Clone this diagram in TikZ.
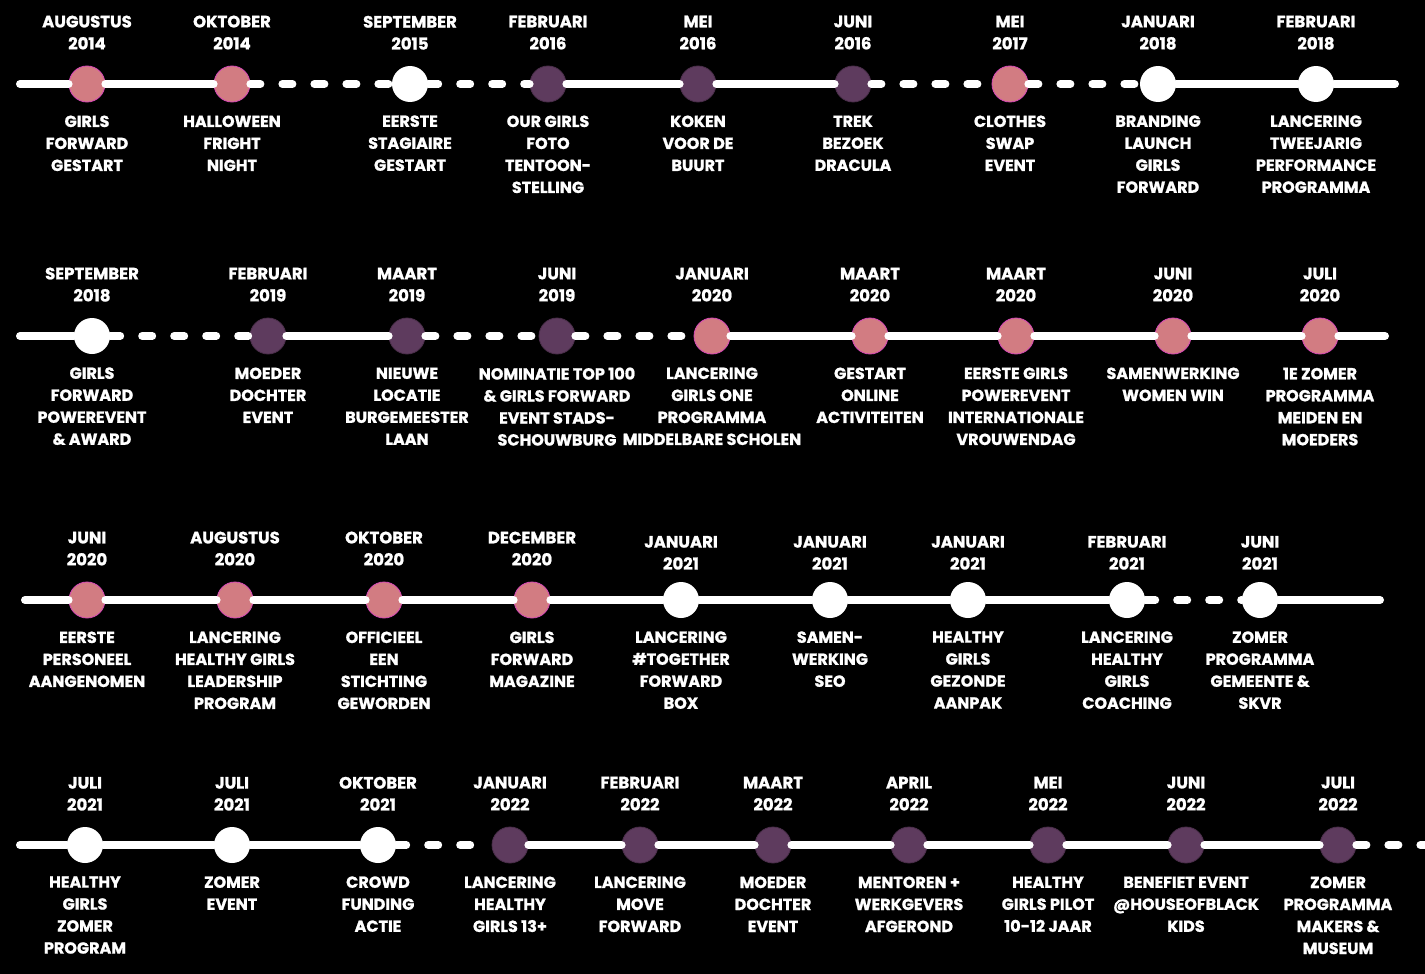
\documentclass[tikz,border=0pt]{standalone}
\usepackage{fontspec}
\setmainfont{Poppins}[BoldFeatures={FakeBold=1.2}]
\usetikzlibrary{positioning}
\definecolor{gfpink}{HTML}{D27C82}
\definecolor{gfrim}{HTML}{D84AB8}
\definecolor{gfpurple}{HTML}{5E3B5E}

\begin{document}
\begin{tikzpicture}[x=1pt, y=-1pt,
    eventdot/.style={circle, minimum size=36pt, inner sep=0pt},
    pinkdot/.style={eventdot, fill=gfpink, draw=gfrim, line width=0.8pt},
    purpledot/.style={eventdot, fill=gfpurple, draw=gfpurple!80!black, line width=0.8pt},
    whitedot/.style={eventdot, fill=white},
    datetext/.style={text=white, align=center, inner sep=0pt, font=\fontsize{16.5}{22}\selectfont\bfseries},
    infotext/.style={text=white, align=center, inner sep=0pt, font=\fontsize{16}{22}\selectfont\bfseries},
    track/.style={white, line width=8pt, line cap=round},
    dashtrack/.style={white, line width=8pt, line cap=round, dash pattern=on 10pt off 22pt}]

    % Black page
    \useasboundingbox (0,0) rectangle (1425,974);
    \fill[black] (0,0) rectangle (1425,974);

    % Row 1
    \coordinate (r1s) at (20,84);
    \coordinate (r1e) at (1395,84);
    \node[pinkdot] (a1) at (87,84) {};
    \node[pinkdot] (a2) at (232,84) {};
    \node[whitedot] (a3) at (410,84) {};
    \node[purpledot] (a4) at (548,84) {};
    \node[purpledot] (a5) at (698,84) {};
    \node[purpledot] (a6) at (853,84) {};
    \node[pinkdot] (a7) at (1010,84) {};
    \node[whitedot] (a8) at (1158,84) {};
    \node[whitedot] (a9) at (1316,84) {};

    \draw[track] (r1s) -- (a1);
    \draw[track] (a1) -- (a2);
    \draw[dashtrack] (a2) -- (a3);
    \draw[dashtrack] (a3) -- (a4);
    \draw[track] (a4) -- (a5);
    \draw[track] (a5) -- (a6);
    \draw[dashtrack] (a6) -- (a7);
    \draw[dashtrack] (a7) -- (a8);
    \draw[track] (a8) -- (a9);
    \draw[track] (a9) -- (r1e);

    \node[datetext, above=16pt of a1] (a1d) {AUGUSTUS\\2014};
    \node[datetext, above=16pt of a2] (a2d) {OKTOBER\\2014};
    \node[datetext, above=16pt of a3] (a3d) {SEPTEMBER\\2015};
    \node[datetext, above=16pt of a4] (a4d) {FEBRUARI\\2016};
    \node[datetext, above=16pt of a5] (a5d) {MEI\\2016};
    \node[datetext, above=16pt of a6] (a6d) {JUNI\\2016};
    \node[datetext, above=16pt of a7] (a7d) {MEI\\2017};
    \node[datetext, above=16pt of a8] (a8d) {JANUARI\\2018};
    \node[datetext, above=16pt of a9] (a9d) {FEBRUARI\\2018};

    \node[infotext, below=13pt of a1] (a1i) {GIRLS\\FORWARD\\GESTART};
    \node[infotext, below=13pt of a2] (a2i) {HALLOWEEN\\FRIGHT\\NIGHT};
    \node[infotext, below=13pt of a3] (a3i) {EERSTE\\STAGIAIRE\\GESTART};
    \node[infotext, below=13pt of a4] (a4i) {OUR GIRLS\\FOTO\\TENTOON-\\STELLING};
    \node[infotext, below=13pt of a5] (a5i) {KOKEN\\VOOR DE\\BUURT};
    \node[infotext, below=13pt of a6] (a6i) {TREK\\BEZOEK\\DRACULA};
    \node[infotext, below=13pt of a7] (a7i) {CLOTHES\\SWAP\\EVENT};
    \node[infotext, below=13pt of a8] (a8i) {BRANDING\\LAUNCH\\GIRLS\\FORWARD};
    \node[infotext, below=13pt of a9] (a9i) {LANCERING\\TWEEJARIG\\PERFORMANCE\\PROGRAMMA};

    % Row 2
    \coordinate (r2s) at (20,336);
    \coordinate (r2e) at (1385,336);
    \node[whitedot] (b1) at (92,336) {};
    \node[purpledot] (b2) at (268,336) {};
    \node[purpledot] (b3) at (407,336) {};
    \node[purpledot] (b4) at (557,336) {};
    \node[pinkdot] (b5) at (712,336) {};
    \node[pinkdot] (b6) at (870,336) {};
    \node[pinkdot] (b7) at (1016,336) {};
    \node[pinkdot] (b8) at (1173,336) {};
    \node[pinkdot] (b9) at (1320,336) {};

    \draw[track] (r2s) -- (b1);
    \draw[dashtrack] (b1) -- (b2);
    \draw[track] (b2) -- (b3);
    \draw[dashtrack] (b3) -- (b4);
    \draw[dashtrack] (b4) -- (b5);
    \draw[track] (b5) -- (b6);
    \draw[track] (b6) -- (b7);
    \draw[track] (b7) -- (b8);
    \draw[track] (b8) -- (b9);
    \draw[track] (b9) -- (r2e);

    \node[datetext, above=16pt of b1] (b1d) {SEPTEMBER\\2018};
    \node[datetext, above=16pt of b2] (b2d) {FEBRUARI\\2019};
    \node[datetext, above=16pt of b3] (b3d) {MAART\\2019};
    \node[datetext, above=16pt of b4] (b4d) {JUNI\\2019};
    \node[datetext, above=16pt of b5] (b5d) {JANUARI\\2020};
    \node[datetext, above=16pt of b6] (b6d) {MAART\\2020};
    \node[datetext, above=16pt of b7] (b7d) {MAART\\2020};
    \node[datetext, above=16pt of b8] (b8d) {JUNI\\2020};
    \node[datetext, above=16pt of b9] (b9d) {JULI\\2020};

    \node[infotext, below=13pt of b1] (b1i) {GIRLS\\FORWARD\\POWEREVENT\\\& AWARD};
    \node[infotext, below=13pt of b2] (b2i) {MOEDER\\DOCHTER\\EVENT};
    \node[infotext, below=13pt of b3] (b3i) {NIEUWE\\LOCATIE\\BURGEMEESTER\\LAAN};
    \node[infotext, below=13pt of b4] (b4i) {NOMINATIE TOP 100\\\& GIRLS FORWARD\\EVENT STADS-\\SCHOUWBURG};
    \node[infotext, below=13pt of b5] (b5i) {LANCERING\\GIRLS ONE\\PROGRAMMA\\MIDDELBARE SCHOLEN};
    \node[infotext, below=13pt of b6] (b6i) {GESTART\\ONLINE\\ACTIVITEITEN};
    \node[infotext, below=13pt of b7] (b7i) {EERSTE GIRLS\\POWEREVENT\\INTERNATIONALE\\VROUWENDAG};
    \node[infotext, below=13pt of b8] (b8i) {SAMENWERKING\\WOMEN WIN};
    \node[infotext, below=13pt of b9] (b9i) {1E ZOMER\\PROGRAMMA\\MEIDEN EN\\MOEDERS};

    % Row 3
    \coordinate (r3s) at (25,600);
    \coordinate (r3e) at (1380,600);
    \node[pinkdot] (c1) at (87,600) {};
    \node[pinkdot] (c2) at (235,600) {};
    \node[pinkdot] (c3) at (384,600) {};
    \node[pinkdot] (c4) at (532,600) {};
    \node[whitedot] (c5) at (681,600) {};
    \node[whitedot] (c6) at (830,600) {};
    \node[whitedot] (c7) at (968,600) {};
    \node[whitedot] (c8) at (1127,600) {};
    \node[whitedot] (c9) at (1260,600) {};

    \draw[track] (r3s) -- (c1);
    \draw[track] (c1) -- (c2);
    \draw[track] (c2) -- (c3);
    \draw[track] (c3) -- (c4);
    \draw[track] (c4) -- (c5);
    \draw[track] (c5) -- (c6);
    \draw[track] (c6) -- (c7);
    \draw[track] (c7) -- (c8);
    \draw[dashtrack] (c8) -- (c9);
    \draw[track] (c9) -- (r3e);

    \node[datetext, above=16pt of c1] (c1d) {JUNI\\2020};
    \node[datetext, above=16pt of c2] (c2d) {AUGUSTUS\\2020};
    \node[datetext, above=16pt of c3] (c3d) {OKTOBER\\2020};
    \node[datetext, above=16pt of c4] (c4d) {DECEMBER\\2020};
    \node[datetext, above=12pt of c5] (c5d) {JANUARI\\2021};
    \node[datetext, above=12pt of c6] (c6d) {JANUARI\\2021};
    \node[datetext, above=12pt of c7] (c7d) {JANUARI\\2021};
    \node[datetext, above=12pt of c8] (c8d) {FEBRUARI\\2021};
    \node[datetext, above=12pt of c9] (c9d) {JUNI\\2021};

    \node[infotext, below=13pt of c1] (c1i) {EERSTE\\PERSONEEL\\AANGENOMEN};
    \node[infotext, below=13pt of c2] (c2i) {LANCERING\\HEALTHY GIRLS\\LEADERSHIP\\PROGRAM};
    \node[infotext, below=13pt of c3] (c3i) {OFFICIEEL\\EEN\\STICHTING\\GEWORDEN};
    \node[infotext, below=13pt of c4] (c4i) {GIRLS\\FORWARD\\MAGAZINE};
    \node[infotext, below=13pt of c5] (c5i) {LANCERING\\\#TOGETHER\\FORWARD\\BOX};
    \node[infotext, below=13pt of c6] (c6i) {SAMEN-\\WERKING\\SEO};
    \node[infotext, below=13pt of c7] (c7i) {HEALTHY\\GIRLS\\GEZONDE\\AANPAK};
    \node[infotext, below=13pt of c8] (c8i) {LANCERING\\HEALTHY\\GIRLS\\COACHING};
    \node[infotext, below=13pt of c9] (c9i) {ZOMER\\PROGRAMMA\\GEMEENTE \&\\SKVR};

    % Row 4
    \coordinate (r4s) at (20,845);
    \coordinate (r4e) at (1440,845);
    \node[whitedot] (d1) at (85,845) {};
    \node[whitedot] (d2) at (232,845) {};
    \node[whitedot] (d3) at (378,845) {};
    \node[purpledot] (d4) at (510,845) {};
    \node[purpledot] (d5) at (640,845) {};
    \node[purpledot] (d6) at (773,845) {};
    \node[purpledot] (d7) at (909,845) {};
    \node[purpledot] (d8) at (1048,845) {};
    \node[purpledot] (d9) at (1186,845) {};
    \node[purpledot] (d10) at (1338,845) {};

    \draw[track] (r4s) -- (d1);
    \draw[track] (d1) -- (d2);
    \draw[track] (d2) -- (d3);
    \draw[dashtrack] (d3) -- (d4);
    \draw[track] (d4) -- (d5);
    \draw[track] (d5) -- (d6);
    \draw[track] (d6) -- (d7);
    \draw[track] (d7) -- (d8);
    \draw[track] (d8) -- (d9);
    \draw[track] (d9) -- (d10);
    \draw[dashtrack] (d10) -- (r4e);

    \node[datetext, above=16pt of d1] (d1d) {JULI\\2021};
    \node[datetext, above=16pt of d2] (d2d) {JULI\\2021};
    \node[datetext, above=16pt of d3] (d3d) {OKTOBER\\2021};
    \node[datetext, above=16pt of d4] (d4d) {JANUARI\\2022};
    \node[datetext, above=16pt of d5] (d5d) {FEBRUARI\\2022};
    \node[datetext, above=16pt of d6] (d6d) {MAART\\2022};
    \node[datetext, above=16pt of d7] (d7d) {APRIL\\2022};
    \node[datetext, above=16pt of d8] (d8d) {MEI\\2022};
    \node[datetext, above=16pt of d9] (d9d) {JUNI\\2022};
    \node[datetext, above=16pt of d10] (d10d) {JULI\\2022};

    \node[infotext, below=13pt of d1] (d1i) {HEALTHY\\GIRLS\\ZOMER\\PROGRAM};
    \node[infotext, below=13pt of d2] (d2i) {ZOMER\\EVENT};
    \node[infotext, below=13pt of d3] (d3i) {CROWD\\FUNDING\\ACTIE};
    \node[infotext, below=13pt of d4] (d4i) {LANCERING\\HEALTHY\\GIRLS 13+};
    \node[infotext, below=13pt of d5] (d5i) {LANCERING\\MOVE\\FORWARD};
    \node[infotext, below=13pt of d6] (d6i) {MOEDER\\DOCHTER\\EVENT};
    \node[infotext, below=13pt of d7] (d7i) {MENTOREN +\\WERKGEVERS\\AFGEROND};
    \node[infotext, below=13pt of d8] (d8i) {HEALTHY\\GIRLS PILOT\\10-12 JAAR};
    \node[infotext, below=13pt of d9] (d9i) {BENEFIET EVENT\\@HOUSEOFBLACK\\KIDS};
    \node[infotext, below=13pt of d10] (d10i) {ZOMER\\PROGRAMMA\\MAKERS \&\\MUSEUM};
\end{tikzpicture}
\end{document}
